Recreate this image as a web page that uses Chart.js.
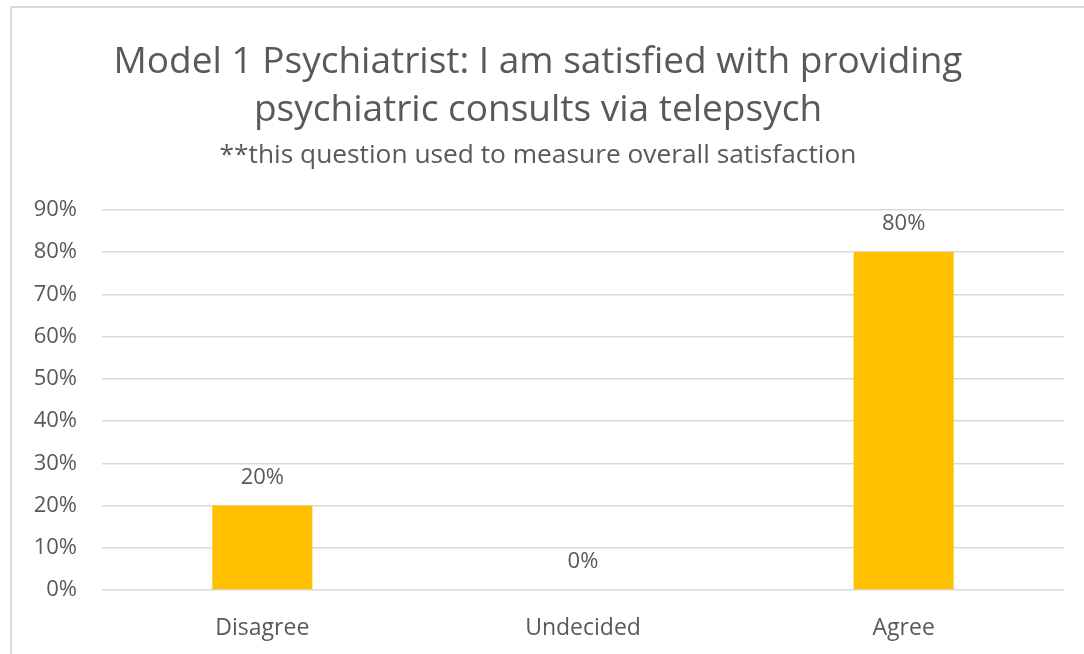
<!DOCTYPE html>
<html>
<head>
  <meta charset="utf-8">
  <title>Model 1 Psychiatrist satisfaction</title>
  <script src="https://cdn.jsdelivr.net/npm/chart.js"></script>
  <style>
    body { margin: 0; background: #fff; font-family: "Open Sans", sans-serif; overflow: hidden; }
    #frame { position: absolute; left: 10px; top: 6px; width: 1090px; height: 680px; border: 2px solid #d9d9d9; }
    #chart { position: absolute; left: 0; top: 0; }
  </style>
</head>
<body>
  <div id="frame">
    <canvas id="chart" width="1072" height="646"></canvas>
  </div>

  <script>
    var categories = ['Disagree', 'Undecided', 'Agree'];
    var shares = [0.20, 0.00, 0.80];
    var titleLines = ['Model 1 Psychiatrist: I am satisfied with providing', 'psychiatric consults via telepsych'];
    var subtitleText = '**this question used to measure overall satisfaction';

    var grey = '#595959';
    var face = '"Open Sans", sans-serif';

    function pct(v) { return Math.round(v * 100) + '%'; }

    // value labels above each bar
    var barLabels = {
      id: 'barLabels',
      afterDatasetsDraw: function(chart) {
        var ctx = chart.ctx;
        var meta = chart.getDatasetMeta(0);
        ctx.save();
        ctx.font = '22px ' + face;
        ctx.fillStyle = grey;
        ctx.textAlign = 'center';
        ctx.textBaseline = 'middle';
        meta.data.forEach(function(bar, i) {
          ctx.fillText(pct(shares[i]), bar.x, bar.y - 28);
        });
        ctx.restore();
      }
    };

    var ctx = document.getElementById('chart').getContext('2d');
    new Chart(ctx, {
      type: 'bar',
      data: {
        labels: categories,
        datasets: [{ data: shares, backgroundColor: '#FFC000', barPercentage: 0.312, categoryPercentage: 1 }]
      },
      plugins: [barLabels],
      options: {
        responsive: false,
        animation: false,
        layout: { padding: { top: 30, right: 20, left: 0, bottom: 0 } },
        plugins: {
          legend: { display: false },
          tooltip: { enabled: false },
          title: {
            display: true,
            text: titleLines,
            color: grey,
            font: { family: face, size: 37, weight: 'normal', lineHeight: 1.3 },
            padding: { top: 0, bottom: 6 }
          },
          subtitle: {
            display: true,
            text: subtitleText,
            color: grey,
            font: { family: face, size: 26.3, weight: 'normal', lineHeight: 1.2 },
            padding: { top: 0, bottom: 38 }
          }
        },
        scales: {
          x: {
            grid: { display: false, drawTicks: false },
            border: { display: false },
            ticks: { color: grey, font: { family: face, size: 23 }, padding: 25 },
            afterFit: function(scale) { scale.height = 64; }
          },
          y: {
            min: 0,
            max: 0.9,
            ticks: { stepSize: 0.1, color: grey, font: { family: face, size: 22 }, padding: 25, callback: function(v) { return pct(v); } },
            grid: { color: '#d9d9d9', lineWidth: 1.5, drawTicks: false },
            border: { display: false },
            afterFit: function(scale) { scale.width = 90; }
          }
        }
      }
    });
  </script>
</body>
</html>
